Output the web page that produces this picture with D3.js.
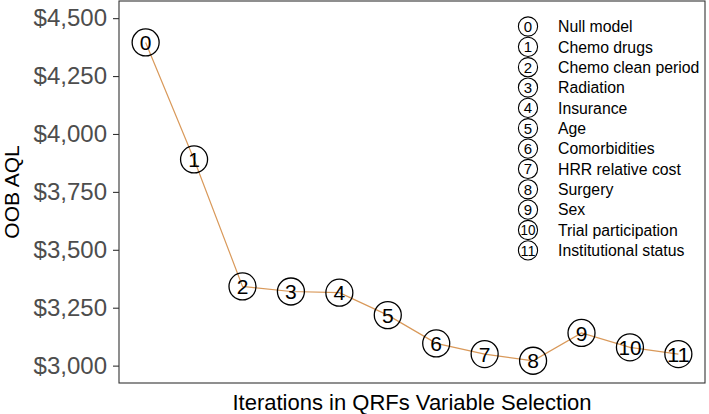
<!DOCTYPE html>
<html>
<head>
<meta charset="utf-8">
<script src="https://cdnjs.cloudflare.com/ajax/libs/d3/7.8.5/d3.min.js"></script>
<style>
  body { margin: 0; background: #fff; }
  text { font-family: "Liberation Sans", Arial, sans-serif; }
</style>
</head>
<body>
<div id="container"></div>
<script>
const width = 709;
const height = 414;

// data
const steps = [0, 1, 2, 3, 4, 5, 6, 7, 8, 9, 10, 11];
const aql = [4395, 3890, 3342, 3320, 3315, 3218, 3096, 3050, 3021, 3141, 3079, 3050];
const variables = ["Null model", "Chemo drugs", "Chemo clean period", "Radiation", "Insurance", "Age",
                   "Comorbidities", "HRR relative cost", "Surgery", "Sex", "Trial participation", "Institutional status"];
const yTicks = [3000, 3250, 3500, 3750, 4000, 4250, 4500];

const panel = { left: 119, right: 705, top: 1, bottom: 383 };

const svg = d3.select("#container")
              .append("svg")
              .attr("width", width)
              .attr("height", height);

const x = d3.scaleLinear()
            .domain([-0.55, 11.55])
            .range([panel.left, panel.right]);
const y = d3.scaleLinear()
            .domain([2925, 4574])
            .range([panel.bottom, panel.top]);

const fmt = d => "$" + d3.format(",")(d);

const yAxis = d3.axisLeft(y)
                .tickValues(yTicks)
                .tickFormat(fmt)
                .tickSize(6)
                .tickPadding(6);
const gy = svg.append("g")
              .attr("transform", "translate(" + panel.left + ",0)")
              .call(yAxis);
gy.select(".domain").remove();
gy.selectAll("line").attr("stroke", "#333333").attr("stroke-width", 1.1);
gy.selectAll("text")
  .attr("fill", "#4d4d4d")
  .style("font-size", "24px");

// connecting line
const line = d3.line()
               .x((d, i) => x(steps[i]))
               .y(d => y(d));
svg.append("path")
   .datum(aql)
   .attr("d", line)
   .attr("fill", "none")
   .attr("stroke", "#d9995a")
   .attr("stroke-width", 1.2);

// circled step markers
const pts = svg.append("g")
               .selectAll("g")
               .data(aql)
               .enter()
               .append("g")
               .attr("transform", (d, i) => "translate(" + x(steps[i]) + "," + y(d) + ")");
pts.append("circle")
   .attr("r", 13.5)
   .attr("fill", "none")
   .attr("stroke", "#000")
   .attr("stroke-width", 1.3);
pts.append("text")
   .attr("text-anchor", "middle")
   .attr("dy", "0.36em")
   .style("font-size", "21px")
   .attr("textLength", (d, i) => steps[i] > 9 ? 23 : null)
   .attr("lengthAdjust", "spacingAndGlyphs")
   .attr("fill", "#000")
   .text((d, i) => steps[i]);

// legend
const legend = svg.append("g")
                  .selectAll("g")
                  .data(variables)
                  .enter()
                  .append("g")
                  .attr("transform", (d, i) => "translate(528," + (26.5 + i * 20.35) + ")");
legend.append("circle")
      .attr("r", 9.6)
      .attr("fill", "none")
      .attr("stroke", "#000")
      .attr("stroke-width", 1.1);
legend.append("text")
      .attr("text-anchor", "middle")
      .attr("dy", "0.36em")
      .style("font-size", "15px")
      .attr("textLength", (d, i) => steps[i] > 9 ? 15 : null)
      .attr("lengthAdjust", "spacingAndGlyphs")
      .text((d, i) => steps[i]);
legend.append("text")
      .attr("x", 30)
      .attr("dy", "0.36em")
      .style("font-size", "15.8px")
      .attr("fill", "#000")
      .text(d => d);

// panel border
svg.append("rect")
   .attr("x", panel.left)
   .attr("y", panel.top)
   .attr("width", panel.right - panel.left)
   .attr("height", panel.bottom - panel.top)
   .attr("fill", "none")
   .attr("stroke", "#333333")
   .attr("stroke-width", 1.1);

// axis titles
svg.append("text")
   .attr("x", (panel.left + panel.right) / 2)
   .attr("y", 410)
   .attr("text-anchor", "middle")
   .style("font-size", "22px")
   .text("Iterations in QRFs Variable Selection");
svg.append("text")
   .attr("transform", "translate(19," + ((panel.top + panel.bottom) / 2) + ") rotate(-90)")
   .attr("text-anchor", "middle")
   .style("font-size", "21px")
   .text("OOB AQL");
</script>
</body>
</html>
